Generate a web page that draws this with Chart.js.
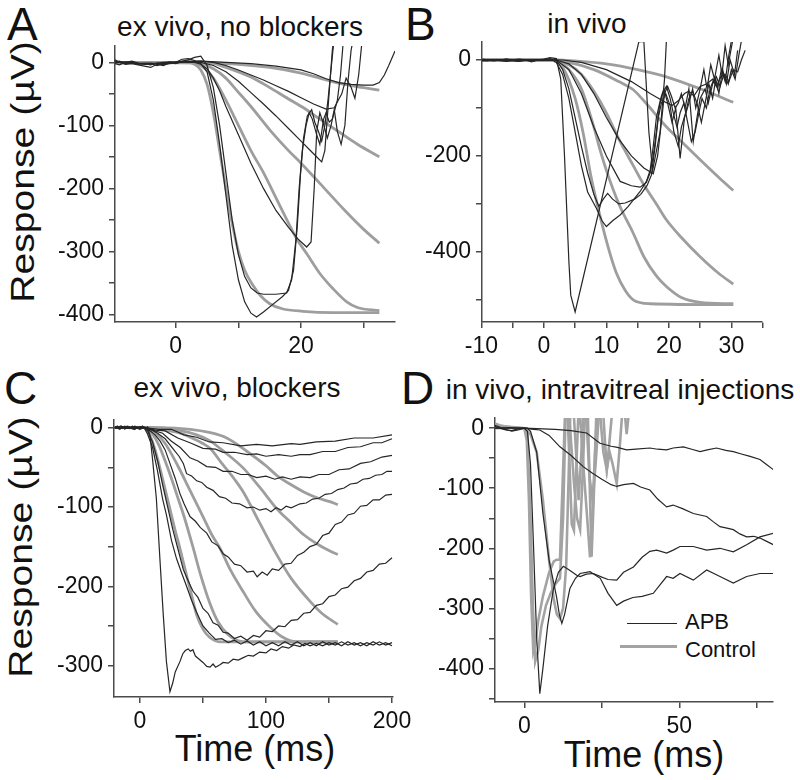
<!DOCTYPE html>
<html>
<head>
<meta charset="utf-8">
<script src="https://cdn.jsdelivr.net/npm/chart.js@4.4.1/dist/chart.umd.min.js"></script>
<style>
body { margin: 0; background: #fff; }
#page { position: relative; width: 800px; height: 780px; overflow: hidden; font-family: "Liberation Sans", Arial, sans-serif; color: #111; }
canvas { position: absolute; left: 0; top: 0; }
.t { position: absolute; line-height: 1; white-space: nowrap; }
.letter { font-size: 46px; }
.title { font-size: 28px; transform: translateX(-50%); }
.ylab { font-size: 34px; transform: translate(-50%, -50%) rotate(-90deg) scaleX(1.15); }
.xlab { font-size: 36px; transform: translateX(-50%); }
.leg { font-size: 22px; }
.legline { position: absolute; height: 0; }
</style>
</head>
<body>
<div id="page">
  <div class="t letter" style="left:7px;top:1px">A</div>
  <div class="t letter" style="left:405px;top:1px">B</div>
  <div class="t letter" style="left:4px;top:365px">C</div>
  <div class="t letter" style="left:401px;top:365px">D</div>
  <div class="t title" style="left:240px;top:13px">ex vivo, no blockers</div>
  <div class="t title" style="left:587px;top:10px">in vivo</div>
  <div class="t title" style="left:237px;top:374px">ex vivo, blockers</div>
  <div class="t title" style="left:620px;top:376px">in vivo, intravitreal injections</div>
  <div class="t ylab" style="left:22px;top:172px">Response (µV)</div>
  <div class="t ylab" style="left:20px;top:547px">Response (µV)</div>
  <div class="t xlab" style="left:255px;top:731px">Time (ms)</div>
  <div class="t xlab" style="left:644px;top:737px">Time (ms)</div>
  <div class="legline" style="left:627px;top:623px;width:50px;border-top:1.5px solid #262626"></div>
  <div class="legline" style="left:620px;top:645px;width:57px;border-top:3px solid #a3a3a3"></div>
  <div class="t leg" style="left:685px;top:611px">APB</div>
  <div class="t leg" style="left:685px;top:639px">Control</div>
  <canvas id="cA" width="800" height="780"></canvas>
  <canvas id="cB" width="800" height="780"></canvas>
  <canvas id="cC" width="800" height="780"></canvas>
  <canvas id="cD" width="800" height="780"></canvas>
</div>
<script>
// ---- panel A: ex vivo, no blockers (time ms, response uV) ----
const aBlack1 = [[-9.7,4],[-9,0],[-8,-3],[-7,-2],[-6,-4],[-5,-6],[-4,-8],[-3,-3],[-2,-5],[-1,-1],[0,0],[1,5],[2,6],[3,3],[4,-2],[5,-15],[6,-60],[7,-130],[8,-210],[9,-290],[10,-345],[11,-380],[12,-398],[12.9,-404],[14,-396],[15.5,-384],[17,-372],[18,-362],[18.8,-330],[19.4,-260],[19.9,-180],[20.4,-120],[21,-85],[21.7,-75],[22.2,-95],[22.8,-110],[23.3,-125],[23.8,-100],[24.3,-60],[24.8,-10],[25.3,40]];
const aBlack2 = [[-9.7,0],[-9,2],[-8,-2],[-7,-1],[-6,-3],[-5,-2],[-4,-4],[-3,-1],[-2,-3],[-1,0],[0,-2],[1,2],[2,4],[3,8],[4,10],[5,-5],[6,-40],[7,-100],[8,-175],[9,-250],[10,-305],[11,-340],[12,-358],[13,-366],[14,-368],[16,-368],[17.7,-366],[18.5,-345],[19.2,-280],[19.7,-200],[20.2,-140],[20.8,-100],[21.3,-80],[21.8,-90],[22.5,-115],[23,-130],[23.6,-90],[24,-80],[24.5,-95],[25,-90],[25.8,-60],[26.3,-20],[26.8,40]];
const aBlack3 = [[-9.7,-2],[-9,-4],[-8,0],[-7,2],[-6,-1],[-5,-3],[-4,-2],[-3,-5],[-2,-2],[-1,1],[0,-1],[1,1],[2,0],[3,0],[4,-3],[5,-10],[6,-25],[7,-45],[8,-70],[10,-115],[12,-160],[14,-200],[16,-235],[18,-262],[19.5,-280],[20.9,-293],[21.6,-285],[22.1,-200],[22.5,-110],[23,-80],[23.5,-95],[24.2,-120],[24.8,-100],[25.3,-75],[25.8,-110],[26.4,-130],[27,-100],[27.5,-30],[28,20],[28.4,40]];
const aBlack4 = [[-9.7,1],[-8,-1],[-6,-2],[-4,-1],[-2,-3],[0,-1],[2,1],[4,0],[6,-5],[8,-15],[10,-30],[12,-48],[14,-66],[16,-85],[18,-105],[20,-125],[22,-145],[23.3,-158],[23.8,-140],[24.4,-60],[25,20],[25.3,40]];
const aBlack5 = [[-9.7,2],[-8,0],[-6,-2],[-4,-3],[-2,0],[0,1],[2,2],[4,2],[6,0],[8,-5],[10,-12],[12,-20],[14,-28],[16,-37],[18,-46],[20,-56],[22,-66],[24,-74],[25.3,-72],[26.5,-50],[27.2,-25],[28,-40],[28.6,-57],[29.2,-20],[29.8,40]];
const aBlack6 = [[-9.7,-1],[-8,1],[-6,-1],[-4,-2],[-2,-1],[0,0],[2,1],[4,2],[8,0],[12,-2],[16,-6],[20,-12],[22,-18],[24,-26],[26,-32],[28,-35],[30,-36],[31.5,-36],[32.5,-32],[33.3,-20],[34,-5],[35,18]];
const aGrey1 = [[-9.7,0],[2,0],[3,-3],[4,-12],[5,-35],[6,-80],[7,-140],[8,-200],[9,-255],[10,-300],[11,-330],[12.4,-355],[13.5,-370],[15,-383],[17,-391],[20.3,-395],[25,-397],[32.5,-397]];
const aGrey2 = [[-9.7,0],[2,0],[4,-5],[6,-25],[8,-60],[10,-100],[12,-140],[14,-175],[16,-215],[18,-255],[19.3,-280],[21,-305],[23,-335],[25,-358],[27.3,-380],[29,-389],[32.5,-394]];
const aGrey3 = [[-9.7,0],[3,0],[6,-10],[8,-25],[9.7,-44],[12,-70],[15,-107],[18,-140],[20,-160],[23,-192],[27,-235],[30,-265],[32.5,-287]];
const aGrey4 = [[-9.7,0],[5,0],[8,-8],[10,-15],[12.4,-25],[15,-40],[18,-58],[20.4,-72],[23,-90],[26,-110],[29,-130],[32.5,-150]];
const aGrey5 = [[-9.7,0],[5,-1],[10,-3],[15,-8],[20,-17],[23,-25],[26,-33],[30,-40],[32.5,-44]];
const aXTicks = [0, 10, 20, 30], aXLabels = [0, 20];
const aYTicks = [0, -50, -100, -150, -200, -250, -300, -350, -400], aYLabels = [0, -100, -200, -300, -400];

// ---- panel B: in vivo ----
const bBlack1 = [[-10,0],[-9,-2],[-8,1],[-7,-1],[-6,2],[-5,-1],[-4,-3],[-3,1],[-2,-4],[-1,0],[0,2],[1,5],[2,3],[2.7,-40],[3.3,-200],[4,-420],[4.3,-490],[5,-525],[15.2,38],[16,38],[16.8,-150],[17.4,-230],[18.6,-150],[19.3,-40],[19.6,40]];
const bBlack2 = [[-10,-2],[-8,0],[-6,-3],[-4,0],[-2,-2],[0,0],[1,3],[2,-5],[3,-30],[4,-80],[5,-150],[6,-220],[7,-275],[8.4,-309],[9.3,-335],[10,-347],[11,-335],[12.2,-323],[13.5,-305],[15.4,-274],[16.4,-253],[17,-230],[17.5,-180],[18,-120],[18.7,-80],[19.2,-60],[19.8,-90],[20.5,-130],[21.1,-100],[21.8,-205],[22.5,-120],[23.2,-90],[23.8,-60],[24.3,-100],[25,-60],[25.6,-20],[26.1,-60],[26.7,-10],[27.3,-40],[28,10],[28.5,-30],[29,30],[29.5,-10],[30.2,40]];
const bBlack3 = [[-10,1],[-8,-2],[-6,2],[-4,-1],[-2,1],[0,-1],[2,0],[3,-20],[4,-60],[5,-120],[6,-180],[7,-235],[8,-280],[8.8,-305],[9.5,-290],[10.2,-278],[11,-290],[12,-300],[13,-298],[14.5,-290],[15.5,-280],[16.5,-262],[17.2,-240],[17.8,-180],[18.3,-120],[18.8,-90],[19.5,-70],[20.2,-95],[20.8,-150],[21.5,-180],[22,-140],[22.7,-110],[23.2,-80],[23.8,-65],[24.5,-90],[25.2,-130],[25.8,-90],[26.4,-50],[27,-80],[27.5,-40],[28,-70],[28.6,-20],[29.2,-50],[29.8,0],[30.5,-30],[31,20]];
const bBlack4 = [[-10,-1],[-8,1],[-6,-2],[-4,2],[-2,-1],[0,1],[2,0],[4,-20],[6,-70],[8,-140],[10,-200],[12.2,-253],[14,-262],[15.4,-265],[16.4,-255],[17,-235],[17.5,-200],[18,-150],[18.5,-95],[19,-70],[19.6,-55],[20.2,-80],[20.7,-110],[21.3,-140],[21.8,-110],[22.4,-90],[23,-130],[23.6,-170],[24.2,-150],[24.8,-110],[25.3,-80],[26,-100],[26.6,-60],[27.2,-40],[27.8,-60],[28.4,-20],[29,-45],[29.6,10],[30,40]];
const bBlack5 = [[-10,2],[-8,-1],[-6,0],[-4,-3],[-2,1],[0,0],[2,0],[4,-8],[6,-30],[8,-70],[10,-120],[12,-165],[14,-200],[16,-225],[17.5,-237],[18.2,-200],[18.8,-130],[19.3,-70],[19.8,-55],[20.4,-75],[21,-100],[21.5,-90],[22,-70],[22.6,-100],[23.2,-60],[23.9,-170],[24.5,-120],[25,-80],[25.8,-60],[26.3,-90],[27,-50],[27.6,-35],[28.2,-55],[28.8,-30],[29.5,-50],[30,-20],[30.6,-40],[31.2,10],[31.6,40]];
const bBlack6 = [[-10,0],[-7,1],[-4,-1],[0,1],[3,0],[6,-5],[10,-20],[14,-45],[17,-70],[19,-85],[20.5,-95],[21.5,-85],[22.5,-70],[23.2,-65],[24,-75],[25,-55],[26,-50],[27,-40],[27.6,-55],[28.3,-35],[29,-30],[29.6,-45],[30.3,-20],[31,-25],[31.6,0],[32.2,20]];
const bGrey1 = [[-10,0],[1,0],[3,-15],[5,-80],[6.3,-153],[7.5,-240],[9,-326],[10.5,-400],[11.6,-444],[13,-480],[14.3,-500],[17,-508],[30.3,-510]];
const bGrey2 = [[-10,0],[1,0],[2,-3],[4,-20],[6,-60],[8,-140],[9,-188],[10,-230],[12,-300],[14.3,-361],[16,-410],[18,-450],[19.6,-472],[22,-495],[25,-505],[30.3,-508]];
const bGrey3 = [[-10,0],[1,0],[4,-10],[6,-30],[8,-65],[10,-110],[12,-165],[14.3,-220],[16,-260],[18,-300],[19.6,-333],[22,-370],[25,-410],[28,-445],[30.3,-467]];
const bGrey4 = [[-10,0],[1,0],[4,-5],[8,-20],[12,-45],[14.3,-62],[16,-85],[19.6,-139],[22,-170],[25,-208],[28,-245],[30.3,-272]];
const bGrey5 = [[-10,0],[2,0],[5,-2],[10,-8],[15,-20],[19.6,-35],[25,-60],[30.3,-88]];
const bXTicks = [-10, -5, 0, 5, 10, 15, 20, 25, 30, 35], bXLabels = [-10, 0, 10, 20, 30];
const bYTicks = [0, -100, -200, -300, -400, -500], bYLabels = [0, -200, -400];

// ---- panel C: ex vivo, blockers ----
const cBlack1 = [[-20,0],[-18,2],[-16,-1],[-14,1],[-12,-2],[-10,1],[-8,-1],[-6,2],[-4,-2],[-2,1],[0,0],[2,2],[4,-1],[6,1],[8,-10],[10,-40],[13,-89],[16,-170],[18.5,-236],[21,-295],[23.8,-333],[26,-322],[28,-308],[31.7,-295],[34,-285],[36,-281],[38.3,-279],[40,-282],[42,-280],[44,-288],[47,-292],[50,-296],[53,-301],[55.6,-302],[58,-298],[60,-302],[63.5,-299],[66,-296],[70,-297],[74,-292],[78,-293],[82,-290],[86,-287],[90,-288],[95,-283],[100,-284],[104,-279],[108.5,-281],[113,-276],[118,-278],[122,-274],[127,-276],[131,-272],[135,-275],[140,-272],[145,-275],[150,-271],[155,-274],[160,-270],[165,-274],[170,-271],[175,-275],[180,-271],[185,-274],[190,-270],[195,-274],[200,-271]];
const cBlack2 = [[-20,1],[-16,-2],[-12,2],[-8,-1],[-4,2],[0,-1],[3,1],[6,-8],[10,-25],[14,-55],[18,-90],[21,-110],[25,-142],[29,-165],[33,-183],[37,-200],[41,-218],[45,-233],[50,-250],[55,-259],[60,-267],[65,-266],[70,-271],[75,-268],[80,-273],[85,-269],[90,-274],[95,-270],[100,-275],[105,-271],[110,-275],[115,-270],[120,-274],[125,-270],[130,-275],[135,-271],[140,-275],[145,-270],[150,-274],[155,-271],[160,-275],[165,-270],[170,-274],[175,-271],[180,-275],[185,-270],[190,-274],[195,-271],[200,-275]];
const cBlack3 = [[-20,-1],[-15,2],[-10,-1],[-5,1],[0,-2],[3,0],[6,-4],[10,-18],[14,-42],[18,-72],[22,-100],[26,-128],[30,-152],[34.4,-179],[38,-192],[42,-206],[46,-214],[50,-228],[54,-234],[58,-246],[62,-249],[66,-258],[70,-259],[75,-266],[80,-263],[85,-268],[90,-262],[95,-264],[100,-256],[105,-257],[110,-250],[115,-251],[120,-243],[125,-242],[130,-234],[135,-233],[140,-224],[145,-222],[150,-213],[155,-211],[160,-203],[165,-201],[170,-193],[175,-190],[180,-182],[185,-180],[190,-172],[195,-171],[200,-164]];
const cBlack4 = [[-20,1],[-15,-1],[-10,2],[-5,-1],[0,1],[3,0],[8,-4],[12,-9],[16,-17],[20,-28],[24,-46],[28,-64],[31.7,-83],[35,-96],[39.7,-112],[44,-118],[48,-126],[53,-133],[57,-144],[62,-149],[66,-159],[70,-163],[75,-172],[80,-174],[85,-182],[90,-181],[93,-188],[97,-182],[101,-186],[105,-178],[110,-180],[115,-172],[120,-171],[125,-161],[130,-157],[135,-150],[140,-147],[145,-136],[150,-133],[155,-122],[160,-119],[165,-110],[170,-108],[175,-99],[180,-98],[185,-91],[190,-91],[195,-85],[200,-84]];
const cBlack5 = [[-20,0],[-15,2],[-10,-1],[-5,1],[0,-1],[3,0],[8,-2],[14,-7],[20,-14],[26,-26],[31,-36],[34.4,-45],[37,-58],[41,-61],[45,-67],[49,-69],[53,-75],[58,-79],[63,-87],[68,-89],[73,-95],[79,-96],[85,-101],[90,-100],[95,-104],[100,-102],[104,-106],[108,-101],[112,-104],[116,-99],[120,-101],[127,-96],[132,-95],[137,-90],[142,-89],[147,-84],[152,-83],[157,-78],[162,-76],[167,-71],[172,-70],[177,-65],[182,-64],[187,-60],[192,-59],[196,-55],[200,-55]];
const cBlack6 = [[-20,1],[-15,-1],[-10,1],[-5,-2],[0,1],[3,0],[10,-3],[18,-7],[25,-17],[32,-25],[39.7,-38],[46,-42],[53,-49],[60,-50],[66,-55],[73,-55],[80,-59],[86,-59],[92.6,-63],[100,-61],[107,-65],[113,-62],[120,-65],[127,-62],[135,-63],[142,-59],[150,-59],[158,-53],[166,-52],[175,-45],[183,-43],[192,-37],[200,-35]];
const cBlack7 = [[-20,-1],[-15,1],[-10,-1],[-5,1],[0,0],[3,1],[12,-3],[20,-4],[30,-13],[39.7,-19],[50,-26],[60,-27],[66,-31],[75,-31],[85,-34],[92.6,-33],[100,-36],[110,-34],[120,-36],[127,-34],[135,-34],[145,-30],[155,-30],[165,-25],[175,-24],[185,-19],[192,-19],[200,-14]];
const cBlack8 = [[-20,0],[-15,-1],[-10,1],[-5,0],[0,-1],[3,0],[15,-2],[25,-2],[35,-9],[45,-12],[55,-18],[66,-19],[80,-23],[92.6,-21],[105,-23],[120,-20],[127,-21],[140,-18],[155,-17],[170,-13],[185,-13],[200,-9]];
const cGrey1 = [[-20,0],[4,0],[8,-10],[12,-28],[16,-52],[20,-78],[24,-104],[28,-130],[31.7,-152],[36,-180],[40,-205],[45,-236],[50,-254],[55,-264],[63.5,-270],[157,-270]];
const cGrey2 = [[-20,0],[5,0],[10,-8],[15,-22],[20,-42],[25,-64],[30,-88],[35,-112],[42.3,-152],[48,-185],[55.6,-222],[62,-245],[70,-261],[82,-270],[157,-270]];
const cGrey3 = [[-20,0],[6,0],[12,-6],[20,-20],[30,-48],[40,-80],[50,-112],[57,-135],[63.5,-152],[72,-180],[82,-207],[92,-232],[103,-251],[113,-264],[124,-270],[157,-270]];
const cGrey4 = [[-20,0],[8,0],[20,-3],[30,-6],[40,-12],[50,-20],[55.6,-26],[65,-45],[75,-65],[82,-81],[95,-120],[108.5,-160],[120,-190],[135,-219],[145,-235],[157,-248]];
const cGrey5 = [[-20,0],[10,0],[30,-3],[45,-9],[55,-16],[65,-28],[82,-51],[95,-75],[108.5,-102],[120,-120],[130,-135],[140,-146],[150,-155],[157,-160]];
const cGrey6 = [[-20,0],[15,0],[40,-2],[55,-6],[68.8,-13],[85,-30],[100,-48],[108.5,-60],[120,-72],[130,-81],[140,-88],[150,-93],[157,-97]];
const cXTicks = [0, 50, 100, 150, 200], cXLabels = [0, 100, 200];
const cYTicks = [0, -50, -100, -150, -200, -250, -300], cYLabels = [0, -100, -200, -300];

// ---- panel D: in vivo, intravitreal injections (APB vs Control) ----
const dApb1 = [[-9.5,5],[-8,2],[-6,-2],[-4,-5],[-2,-3],[0,0],[1,-5],[2,-60],[3,-200],[4,-350],[5,-442],[6,-400],[7.5,-330],[9.4,-267],[11,-240],[12.6,-230],[14.5,-236],[16.9,-245],[18,-247],[20,-243],[22.3,-242],[25,-248],[27,-252],[29.8,-253],[32,-240],[35.2,-231],[38,-215],[40.5,-205],[42.7,-203],[45.9,-208],[48,-203],[50.2,-197],[54.5,-197],[58.8,-203],[63.1,-200],[67.4,-206],[71.7,-194],[76,-181],[80.3,-175]];
const dApb2 = [[-9.5,3],[-8,0],[-6,-3],[-4,-4],[-2,-1],[0,0],[1,0],[2,-5],[4,-40],[6,-142],[8,-220],[10.4,-281],[11.3,-310],[12.1,-325],[13,-310],[14.7,-267],[16.5,-250],[18,-242],[21.2,-239],[24.5,-250],[27,-275],[29.8,-295],[32,-288],[35,-282],[38,-280],[41.6,-275],[45.9,-247],[48,-250],[50.2,-242],[54.5,-253],[58.8,-236],[63.1,-247],[67.4,-258],[71.7,-247],[76,-242],[80.3,-242]];
const dApb3 = [[-9.5,0],[-5,1],[0,0],[3,-2],[5,-3],[8,-12],[11.5,-31],[15,-45],[19,-64],[22,-75],[25,-85],[28,-94],[29.8,-97],[32,-94],[35.2,-92],[37.5,-98],[40.5,-103],[43,-118],[45.9,-131],[48,-128],[51,-134],[54.5,-142],[58.8,-147],[61,-156],[63.1,-164],[65,-166],[67.4,-169],[69.5,-176],[71.7,-181],[74,-180],[76,-183],[78,-188],[80.3,-194]];
const dApb4 = [[-9.5,0],[0,0],[10,-2],[15,-4],[20.1,-8],[24.4,-25],[28,-30],[30,-32],[33,-36],[36,-35],[40.5,-33],[43,-35],[45.9,-36],[48,-33],[51.3,-31],[54,-35],[56.7,-39],[59,-36],[62,-33],[65,-37],[67.4,-39],[70,-43],[72.8,-47],[76,-52],[78,-60],[80.3,-69]];
const dCtl1 = [[-9.5,8],[-8,5],[-6,3],[-4,2],[-2,1],[0,0],[0.8,-20],[1.5,-120],[2.2,-280],[2.9,-372],[3.5,-360],[4.5,-320],[6,-280],[8,-240],[9.5,-222],[10.4,-219],[11.5,-219],[12.3,-100],[13.1,20],[14,20],[15.3,-160],[16,-170],[16.8,-60],[17.4,20],[18,20],[19,-60],[20,-130],[21.2,-215],[22,-140],[22.8,-40],[23.4,20]];
const dCtl2 = [[-9.5,4],[-6,2],[-3,0],[0,0],[1,-10],[2,-150],[2.8,-300],[3.5,-389],[4.5,-370],[5.5,-330],[7,-295],[8.5,-275],[10,-260],[11.5,-250],[12.5,-150],[13.3,20],[14.5,20],[16,-90],[17,-150],[18,-169],[18.8,-80],[19.5,20],[20.5,20],[21.7,-214],[22.5,-100],[23.2,20],[24.5,20],[25.5,-40],[26.6,-69],[27.5,-20],[28.2,20]];
const dCtl3 = [[-9.5,0],[-5,1],[0,0],[2,-10],[4,-40],[6,-120],[8,-220],[9.5,-285],[10.5,-310],[11.5,-317],[12.5,-300],[13.5,-230],[14.3,-80],[14.8,20],[16,20],[16.8,-50],[17.5,-120],[18.2,-60],[19,20],[20,20],[21,-80],[22,-120],[23,-60],[24,20],[25.5,20],[26.6,-69],[27.5,-40],[28.5,-60],[29.8,-92],[30.8,-30],[31.5,20],[32.5,20],[33,-10],[33.6,20]];
const dXTicks = [0, 25, 50, 75], dXLabels = [0, 50];
const dYTicks = [0, -50, -100, -150, -200, -250, -300, -350, -400, -450], dYLabels = [0, -100, -200, -300, -400];

const axisColor = '#4a4a4a';
const Y_W = 60, X_H = 40;

function black(d) {
    return { data: d, borderColor: '#262626', borderWidth: 1.2, tension: 0 };
}
function grey(d) {
    return { data: d, borderColor: '#9e9e9e', borderWidth: 2.8, cubicInterpolationMode: 'monotone' };
}
function greyRough(d) {
    return { data: d, borderColor: '#a3a3a3', borderWidth: 2.6, tension: 0 };
}

function axis(range, ticks, labels, fit) {
    return {
        type: 'linear',
        min: range[0],
        max: range[1],
        afterFit: fit,
        afterBuildTicks: function (s) { s.ticks = ticks.map(v => ({ value: v })); },
        grid: { drawOnChartArea: false, drawTicks: true, tickLength: 6, color: axisColor, lineWidth: 1.5 },
        border: { display: true, color: axisColor, width: 1.5 },
        ticks: {
            autoSkip: false, maxRotation: 0, padding: 5, color: '#111',
            font: { family: 'Liberation Sans', size: 23 },
            callback: v => labels.includes(v) ? String(v) : ''
        }
    };
}

// box = chart area [left, top, right, bottom] on the page
function buildPanel(id, box, xr, yr, xt, xl, yt, yl, sets) {
    new Chart(document.getElementById(id), {
        type: 'line',
        data: { datasets: sets },
        options: {
            responsive: false,
            animation: false,
            events: [],
            layout: { padding: { left: box[0] - Y_W, top: box[1], right: 800 - box[2], bottom: 780 - box[3] - X_H } },
            elements: { point: { radius: 0 } },
            plugins: { legend: { display: false }, tooltip: { enabled: false } },
            scales: {
                x: axis(xr, xt, xl, s => { s.height = X_H; }),
                y: axis(yr, yt, yl, s => { s.width = Y_W; })
            }
        }
    });
}

buildPanel('cA', [115, 46, 395, 322], [-9.7, 35], [-412, 26], aXTicks, aXLabels, aYTicks, aYLabels, [
    black(aBlack1), black(aBlack2), black(aBlack3), black(aBlack4), black(aBlack5), black(aBlack6),
    grey(aGrey1), grey(aGrey2), grey(aGrey3), grey(aGrey4), grey(aGrey5)
]);
buildPanel('cB', [482, 42, 762, 322], [-9.9, 34.9], [-546, 37.5], bXTicks, bXLabels, bYTicks, bYLabels, [
    black(bBlack1), black(bBlack2), black(bBlack3), black(bBlack4), black(bBlack5), black(bBlack6),
    grey(bGrey1), grey(bGrey2), grey(bGrey3), grey(bGrey4), grey(bGrey5)
]);
buildPanel('cC', [114, 420, 393, 697], [-20.6, 200.8], [-339.6, 9.7], cXTicks, cXLabels, cYTicks, cYLabels, [
    black(cBlack1), black(cBlack2), black(cBlack3), black(cBlack4), black(cBlack5), black(cBlack6), black(cBlack7), black(cBlack8),
    grey(cGrey1), grey(cGrey2), grey(cGrey3), grey(cGrey4), grey(cGrey5), grey(cGrey6)
]);
buildPanel('cD', [495, 418, 773, 702], [-9.45, 80.2], [-456, 17], dXTicks, dXLabels, dYTicks, dYLabels, [
    black(dApb1), black(dApb2), black(dApb3), black(dApb4),
    greyRough(dCtl1), greyRough(dCtl2), greyRough(dCtl3)
]);
</script>
</body>
</html>
